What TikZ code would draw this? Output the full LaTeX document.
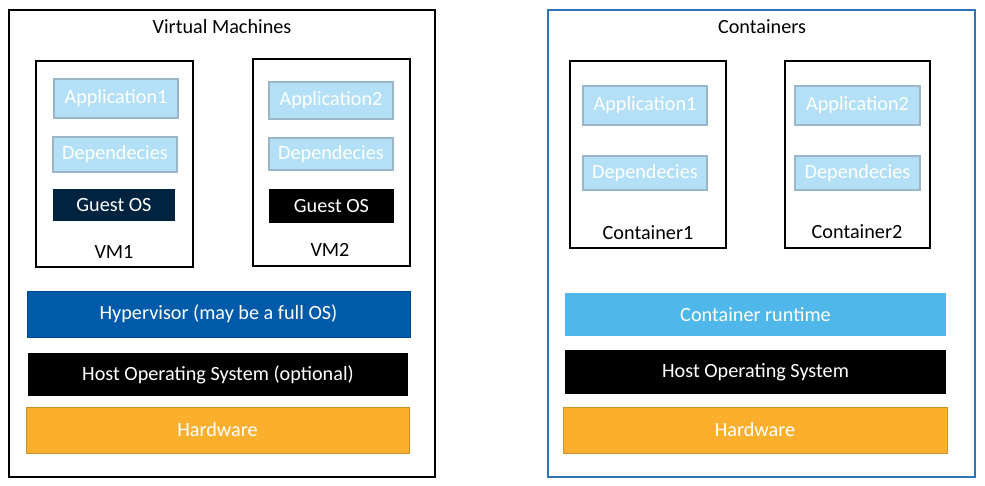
\documentclass[tikz,border=0pt]{standalone}
\usepackage{fontspec}
\setmainfont{Carlito}
\usepackage{tikz}
\usetikzlibrary{positioning}

\definecolor{applight}{HTML}{B3E0F6}
\definecolor{appedge}{HTML}{9AB6C8}
\definecolor{guestnavy}{HTML}{002440}
\definecolor{hypblue}{HTML}{005AAA}
\definecolor{runblue}{HTML}{4FB7EA}
\definecolor{hworange}{HTML}{FBB02D}
\definecolor{hwedge}{HTML}{C8922A}
\definecolor{ctedge}{HTML}{2E75B6}

\tikzset{
  every node/.style={font=\fontsize{11.5}{14}\selectfont},
  frame/.style={draw=black, line width=0.7pt, inner sep=0pt},
  appbox/.style={draw=appedge, fill=applight, text=white, line width=0.6pt, inner sep=0pt},
  layer/.style={inner sep=0pt, text=white, minimum height=0.9cm},
}

\begin{document}
\begin{tikzpicture}[x=0.02cm, y=-0.02cm]
  \useasboundingbox (0,0) rectangle (985,486);

  % virtual machines side
  \node[frame, minimum width=8.52cm, minimum height=9.34cm] (vms) at (222, 243.5) {};
  \node (vmtitle) at (222, 27) {Virtual Machines};

  \node[frame, minimum width=3.14cm, minimum height=4.12cm] (vm1) at (114.5, 164) {};
  \node[frame, minimum width=3.14cm, minimum height=4.14cm] (vm2) at (331.5, 162.5) {};

  \node[appbox, minimum width=2.48cm, minimum height=0.78cm] (app1) at (116, 98.5) {Application1};
  \node[appbox, minimum width=2.48cm, minimum height=0.70cm] (dep1) at (115, 154.5) {Dependecies};
  \node[fill=guestnavy, text=white, minimum width=2.44cm, minimum height=0.64cm, inner sep=0pt] (gos1) at (114, 205) {Guest OS};
  \node (vm1lbl) at (114, 252) {VM1};

  \node[appbox, minimum width=2.48cm, minimum height=0.74cm] (app2) at (331, 100.5) {Application2};
  \node[appbox, minimum width=2.48cm, minimum height=0.64cm] (dep2) at (331, 154) {Dependecies};
  \node[fill=black, text=white, minimum width=2.5cm, minimum height=0.68cm, inner sep=0pt] (gos2) at (331.5, 206) {Guest OS};
  \node (vm2lbl) at (330, 250) {VM2};

  \node[layer, fill=hypblue, draw=hypblue!80!black, minimum width=7.66cm, minimum height=0.92cm] (hyp) at (218.5, 314) {Hypervisor (may be a full OS)};
  \node[layer, fill=black, minimum width=7.6cm, minimum height=0.86cm] (host1) at (218, 374.5) {Host Operating System (optional)};
  \node[layer, fill=hworange, draw=hwedge, minimum width=7.66cm, minimum height=0.92cm] (hw1) at (217.5, 430) {Hardware};

  % containers side
  \node[draw=ctedge, line width=0.7pt, inner sep=0pt, minimum width=8.54cm, minimum height=9.34cm] (cts) at (761.5, 243.5) {};
  \node (cttitle) at (762, 27) {Containers};

  \node[frame, minimum width=3.12cm, minimum height=3.74cm] (ct1) at (648, 154.5) {};
  \node[frame, minimum width=2.9cm, minimum height=3.74cm] (ct2) at (857.5, 154.5) {};

  \node[appbox, minimum width=2.48cm, minimum height=0.78cm] (capp1) at (645, 105.5) {Application1};
  \node[appbox, minimum width=2.48cm, minimum height=0.68cm] (cdep1) at (645, 173) {Dependecies};
  \node (ct1lbl) at (648, 233) {Container1};

  \node[appbox, minimum width=2.5cm, minimum height=0.78cm] (capp2) at (857.5, 105.5) {Application2};
  \node[appbox, minimum width=2.5cm, minimum height=0.68cm] (cdep2) at (857.5, 173) {Dependecies};
  \node (ct2lbl) at (857, 232) {Container2};

  \node[layer, fill=runblue, minimum width=7.62cm, minimum height=0.86cm] (runtime) at (755.5, 314.5) {Container runtime};
  \node[layer, fill=black, minimum width=7.62cm, minimum height=0.88cm] (host2) at (755.5, 372) {Host Operating System};
  \node[layer, fill=hworange, draw=hwedge, minimum width=7.68cm, minimum height=0.92cm] (hw2) at (755, 430) {Hardware};
\end{tikzpicture}
\end{document}
